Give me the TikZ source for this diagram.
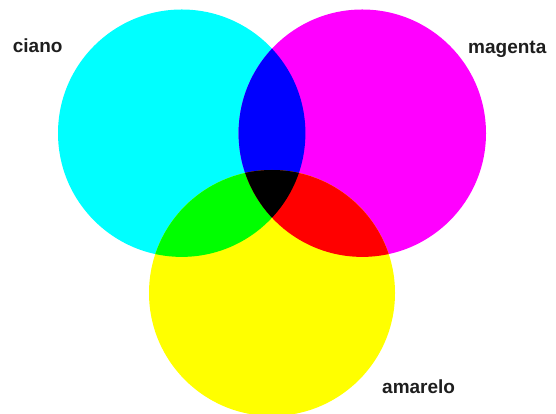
\documentclass[tikz,border=0pt]{standalone}
\usepackage{fontspec}
\setmainfont{Liberation Sans}
\definecolor{Ciano}{HTML}{00FFFF}
\definecolor{Magenta}{HTML}{FF00FF}
\definecolor{Amarelo}{HTML}{FFFF00}
\definecolor{Azul}{HTML}{0000FF}
\definecolor{Verde}{HTML}{00FF00}
\definecolor{Vermelho}{HTML}{FF0000}
\definecolor{Ink}{HTML}{1E1E1E}

\begin{document}
\begin{tikzpicture}[x=1pt,y=1pt,every node/.style={font=\fontsize{19}{22}\selectfont\bfseries,text=Ink,inner sep=0pt,anchor=base west}]
\useasboundingbox (0,0) rectangle (556,414);
\coordinate (cC) at (181.7,280.8);
\coordinate (cM) at (362.3,280.8);
\coordinate (cA) at (272,121);
\fill[Ciano] (cC) circle (123.7);
\fill[Magenta] (cM) circle (123.7);
\fill[Amarelo] (cA) circle (123);
% overlaps
\begin{scope}
\clip (cC) circle (123.7);
\fill[Azul] (cM) circle (123.7);
\fill[Verde] (cA) circle (123);
\end{scope}
\begin{scope}
\clip (cM) circle (123.7);
\fill[Vermelho] (cA) circle (123);
\end{scope}
\begin{scope}
\clip (cC) circle (123.7);\clip (cM) circle (123.7);
\fill[black] (cA) circle (123);
\end{scope}
\node (ciano) at (12.7,361.7) {ciano};
\node (magenta) at (468,360.7) {magenta};
\node (amarelo) at (382,20.7) {amarelo};
\end{tikzpicture}
\end{document}
